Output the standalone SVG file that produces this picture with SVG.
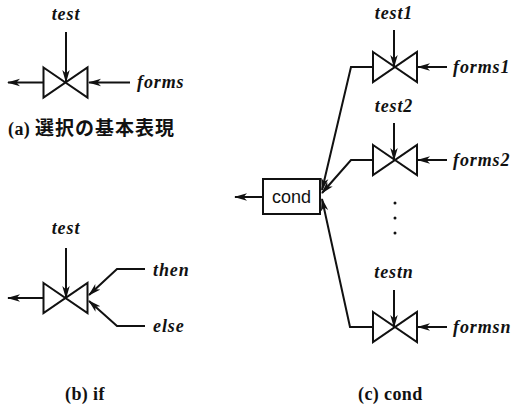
<svg xmlns="http://www.w3.org/2000/svg" width="511" height="409" viewBox="0 0 511 409">
  <style>
    .arr { fill: none; stroke: #111; stroke-width: 2; marker-end: url(#head); }
    .valve { fill: #fff; stroke: #111; stroke-width: 2; stroke-linejoin: miter; }
    .lbl { font-family: "Liberation Serif", "DejaVu Serif", serif; font-style: italic; font-weight: bold; font-size: 18px; letter-spacing: 0.9px; fill: #111; }
    .cap { font-family: "Liberation Serif", "Noto Sans CJK JP", serif; font-weight: bold; font-size: 18px; letter-spacing: 0.4px; fill: #111; }
    .jp { font-family: "Noto Sans CJK JP", sans-serif; font-weight: bold; font-size: 19px; letter-spacing: 1px; }
    .box { fill: #fff; stroke: #111; stroke-width: 2; }
    .boxt { font-family: "Liberation Sans", Arial, sans-serif; font-size: 18px; fill: #111; text-anchor: middle; }
  </style>
  <defs>
    <marker id="head" markerWidth="13" markerHeight="9" refX="12" refY="4.5" orient="auto" markerUnits="userSpaceOnUse">
      <path d="M0,0.8 L13,4.5 L0,8.2 L3.5,4.5 Z" fill="#111"/>
    </marker>
    <!-- two-triangle valve glyph centred on its apex -->
    <path id="valve" class="valve" d="M-22,-15 L22,15 L22,-15 L-22,15 Z"/>
  </defs>

  <!-- (a) basic selection -->
  <g id="valve-a">
    <use href="#valve" x="65.5" y="82.5"/>
    <text class="lbl" x="66" y="20" text-anchor="middle">test</text>
    <text class="lbl" x="137" y="88">forms</text>
  </g>
  <text class="cap" x="8" y="135">(a) <tspan class="jp">選択の基本表現</tspan></text>

  <!-- (b) if -->
  <g id="valve-b">
    <use href="#valve" x="65.5" y="298"/>
    <text class="lbl" x="66" y="234" text-anchor="middle">test</text>
    <text class="lbl" x="153" y="276">then</text>
    <text class="lbl" x="153" y="332">else</text>
  </g>
  <text class="cap" x="65" y="400">(b) if</text>

  <!-- (c) cond -->
  <g id="valve-c1">
    <use href="#valve" x="395" y="67"/>
    <text class="lbl" x="394" y="19" text-anchor="middle">test1</text>
    <text class="lbl" x="453" y="73">forms1</text>
  </g>
  <g id="valve-c2">
    <use href="#valve" x="395" y="160"/>
    <text class="lbl" x="394" y="112" text-anchor="middle">test2</text>
    <text class="lbl" x="453" y="166">forms2</text>
  </g>
  <g id="valve-cn">
    <use href="#valve" x="395" y="327"/>
    <text class="lbl" x="394" y="278" text-anchor="middle">testn</text>
    <text class="lbl" x="453" y="333">formsn</text>
  </g>
  <g id="cond">
    <rect class="box" x="263" y="179" width="57" height="35"/>
    <text class="boxt" x="291.5" y="203">cond</text>
  </g>
  <g id="ellipsis" fill="#111">
    <circle cx="395" cy="203" r="1.5"/>
    <circle cx="395" cy="218" r="1.5"/>
    <circle cx="395" cy="233" r="1.5"/>
  </g>
  <text class="cap" x="358" y="400">(c) cond</text>

  <g id="connectors">
    <!-- (a) -->
    <line class="arr" x1="66" y1="32" x2="66" y2="82"/>
    <line class="arr" x1="43.5" y1="82.5" x2="8" y2="82.5"/>
    <line class="arr" x1="130" y1="82.5" x2="89" y2="82.5"/>
    <!-- (b) -->
    <line class="arr" x1="66" y1="248" x2="66" y2="298"/>
    <line class="arr" x1="43.5" y1="298" x2="8" y2="298"/>
    <polyline class="arr" points="145,269 117,269 89,295"/>
    <polyline class="arr" points="145,326 117,326 89,301"/>
    <!-- (c) -->
    <line class="arr" x1="394" y1="30" x2="394" y2="67"/>
    <line class="arr" x1="394" y1="123" x2="394" y2="160"/>
    <line class="arr" x1="394" y1="290" x2="394" y2="327"/>
    <line class="arr" x1="447" y1="67" x2="418" y2="67"/>
    <line class="arr" x1="447" y1="160" x2="418" y2="160"/>
    <line class="arr" x1="447" y1="327" x2="418" y2="327"/>
    <polyline class="arr" points="373,67 351,67 322,190"/>
    <polyline class="arr" points="373,160 351,160 322,193"/>
    <polyline class="arr" points="373,327 350,327 322,199"/>
    <line class="arr" x1="263" y1="197" x2="235" y2="197"/>
  </g>
</svg>
